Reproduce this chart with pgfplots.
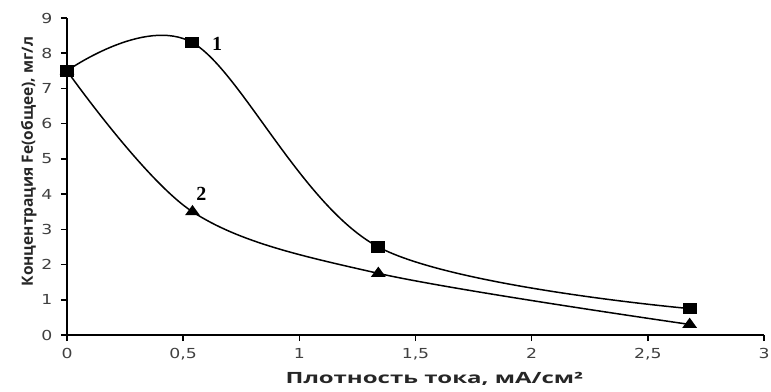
\documentclass[border=0pt]{standalone}
\usepackage{fontspec}
\setmainfont{DejaVu Sans}
\newfontfamily\tickfont[FakeStretch=1.25]{DejaVu Sans}
\newfontfamily\labfont{Open Sans}
\newfontfamily\xlabfont[FakeStretch=1.55]{Open Sans}
\newfontfamily\numfont{Liberation Serif}
\usepackage{pgfplots}
\pgfplotsset{compat=1.18}
\begin{document}
\begin{tikzpicture}
\useasboundingbox (-67pt,-56pt) rectangle (704pt,335pt);
\begin{axis}[
  at={(0pt,0pt)}, anchor=south west,
  scale only axis, width=697pt, height=317pt,
  xmin=0, xmax=3, ymin=0, ymax=9,
  xtick={0,0.5,1,1.5,2,2.5,3}, ytick={0,1,2,3,4,5,6,7,8,9},
  axis lines*=left,
  axis line style={line width=1.8pt},
  tick style={line width=1.6pt, black}, tick align=outside, major tick length=6pt,
  /pgf/number format/assume math mode=true,
  /pgf/number format/use comma,
  ticklabel style={font=\tickfont\fontsize{13.8}{15}\selectfont, text=black!75},
  xticklabel style={yshift=-4pt},
  yticklabel style={xshift=-5pt},
  xlabel={Плотность тока, мА/см²},
  ylabel={Концентрация Fe(общее), мг/л},
  xlabel style={font=\xlabfont\bfseries\fontsize{15.5}{17}\selectfont, text=black!85, xshift=19pt, yshift=-5pt},
  ylabel style={font=\labfont\bfseries\fontsize{15.5}{17}\selectfont, text=black!85, xshift=15pt, yshift=-2pt},
  clip=false,
]
\addplot[smooth, tension=0.55, line width=1.5pt, mark=square*, mark size=5pt, mark options={solid, xscale=1.25}]
  coordinates {(0,7.5) (0.54,8.3) (1.34,2.5) (2.68,0.75)};
\addplot[smooth, tension=0.55, line width=1.5pt, mark=triangle*, mark size=5.5pt, mark options={solid, xscale=1.25}]
  coordinates {(0,7.5) (0.54,3.5) (1.34,1.75) (2.68,0.3)};
\node[font=\numfont\bfseries\fontsize{20}{22}\selectfont] at (axis cs:0.646,8.27) {1};
\node[font=\numfont\bfseries\fontsize{20}{22}\selectfont] at (axis cs:0.578,4.0) {2};
\end{axis}
\end{tikzpicture}
\end{document}
